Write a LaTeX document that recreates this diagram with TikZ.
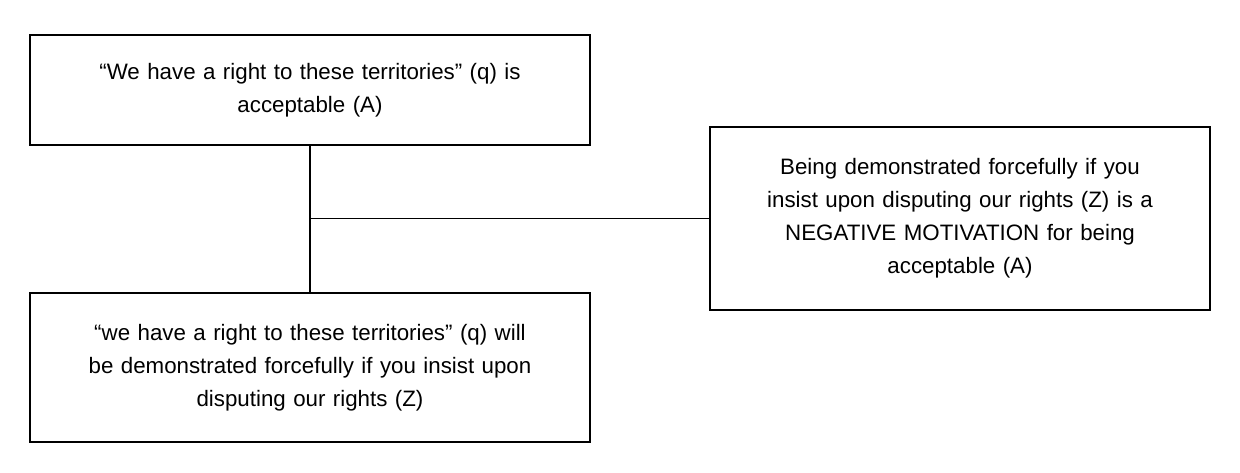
\documentclass[tikz,border=0pt]{standalone}
\usepackage{fontspec}
\setmainfont{Liberation Sans}
\usetikzlibrary{positioning}

\begin{document}
\begin{tikzpicture}[x=0.02cm,y=-0.02cm,
  every node/.style={font=\fontsize{12.7pt}{18.8pt}\selectfont,align=center},
  claim/.style={draw,line width=0.9pt,inner sep=0pt}]
\useasboundingbox (0,0) rectangle (1240,473);
\node[claim,minimum width=560*0.02cm,minimum height=110*0.02cm,text width=520*0.02cm] (a) at (310,90) {``We have a right to these territories'' (q) is\\acceptable (A)};
\node[claim,minimum width=560*0.02cm,minimum height=149*0.02cm,text width=520*0.02cm] (z) at (310,367.5) {``we have a right to these territories'' (q) will\\be demonstrated forcefully if you insist upon\\disputing our rights (Z)};
\node[claim,minimum width=500*0.02cm,minimum height=183*0.02cm,text width=480*0.02cm] (m) at (960,218.5) {Being demonstrated forcefully if you\\insist upon disputing our rights (Z) is a\\NEGATIVE MOTIVATION for being\\acceptable (A)};
\coordinate (j) at (a.south |- m.west);
\draw[line width=1pt] (a.south) -- (z.north);
\draw[line width=1pt] (j) -- (m.west);
\end{tikzpicture}
\end{document}
